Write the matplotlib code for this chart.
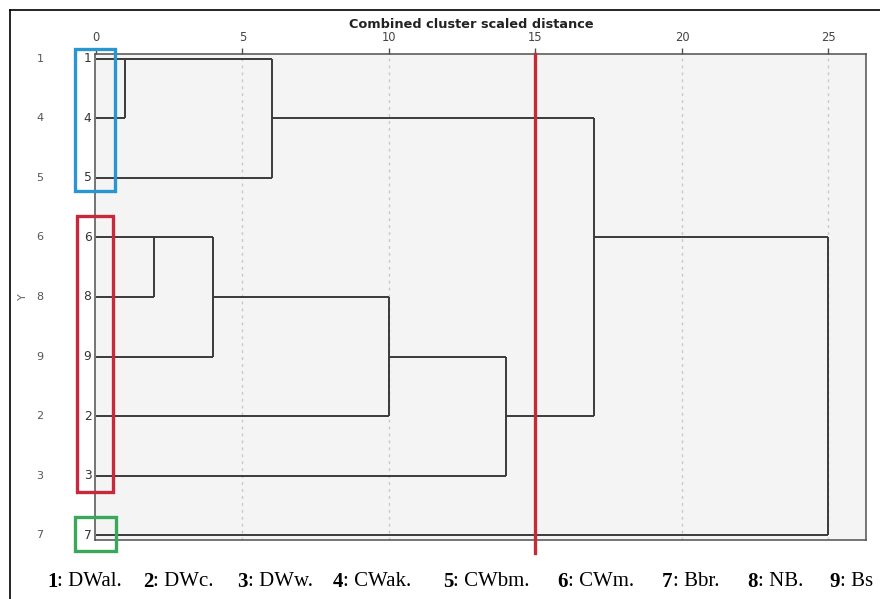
import math
import matplotlib
matplotlib.use("Agg")
import matplotlib.pyplot as plt
from matplotlib.lines import Line2D
from matplotlib.patches import Rectangle

# ---- data -------------------------------------------------------------
leaf_order = ["1", "4", "5", "6", "8", "9", "2", "3", "7"]   # top -> bottom
# agglomeration schedule: (child_a, child_b, rescaled distance)
merges = [
    ("1", "4", 1.0),      # m0
    ("6", "8", 2.0),      # m1
    ("m1", "9", 4.0),     # m2
    ("m0", "5", 6.0),     # m3
    ("m2", "2", 10.0),    # m4
    ("m4", "3", 14.0),    # m5
    ("m3", "m5", 17.0),   # m6
    ("m6", "7", 25.0),    # m7
]
cut_distance = 15.0
x_ticks = [0, 5, 10, 15, 20, 25]
group_members = [["1", "4", "5"], ["6", "8", "9", "2", "3"], ["7"]]
legend_nums = ["1", "2", "3", "4", "5", "6", "7", "8", "9"]
legend_names = ["DWal.", "DWc.", "DWw.", "CWak.", "CWbm.", "CWm.", "Bbr.", "NB.", "Bs"]

# box styling per group: colour, (left, right) in distance units, (top, bottom) padding in rows
group_style = [
    ("#2a96d0", (-0.72, 0.66), (0.17, 0.22)),
    ("#c8283c", (-0.65, 0.58), (0.36, 0.28)),
    ("#3aa85a", (-0.72, 0.68), (0.30, 0.27)),
]

# ---- figure / axes ----------------------------------------------------
W, H = 880, 599
fig = plt.figure(figsize=(W / 100, H / 100), dpi=100)
fig.patch.set_facecolor("white")

ax_l, ax_r, ax_t, ax_b = 95, 866, 54, 540
ax = fig.add_axes([ax_l / W, 1 - ax_b / H, (ax_r - ax_l) / W, (ax_b - ax_t) / H])
ax.set_facecolor("#f4f4f4")
n = len(leaf_order)
ax.set_xlim(-0.03, 26.28)
ax.set_ylim(n - 1 + 0.084, -0.084)

for s in ax.spines.values():
    s.set_color("#505050")
    s.set_linewidth(1.1)

# top distance axis
ax.xaxis.tick_top()
ax.set_xticks(x_ticks)
ax.set_xticklabels([str(t) for t in x_ticks])
ax.tick_params(axis="x", direction="out", length=4, width=1, color="#505050",
               labelsize=8.3, labelcolor="#444444", pad=3)
ax.set_yticks([])

# dotted reference lines
for t in x_ticks[1:]:
    ax.axvline(t, color="#c8c8c8", lw=1, ls=(0, (2, 3)), zorder=1)

# ---- dendrogram ---------------------------------------------------------
line_kw = dict(color="#3a3a3a", lw=1.4, solid_capstyle="butt", zorder=3)
pos = {lab: (i, 0.0) for i, lab in enumerate(leaf_order)}   # (row, x)
for k, (a, b, d) in enumerate(merges):
    ya, xa = pos[a]
    yb, xb = pos[b]
    ax.plot([xa, d], [ya, ya], **line_kw)
    ax.plot([xb, d], [yb, yb], **line_kw)
    ax.plot([d, d], [ya, yb], **line_kw)
    pos["m%d" % k] = (math.floor((ya + yb) / 2), d)

# inner case labels
for i, lab in enumerate(leaf_order):
    ax.text(-0.15, i, lab, ha="right", va="center", fontsize=8.8,
            color="#333333", clip_on=False)

# outer case labels and axis name
for i, lab in enumerate(leaf_order):
    ax.annotate(lab, xy=(0, i), xycoords=("figure pixels", "data"),
                xytext=(40, 0), textcoords=("figure pixels", "offset points"),
                ha="center", va="center", fontsize=8, color="#555555")
ax.annotate("Y", xy=(0, 4), xycoords=("figure pixels", "data"),
            xytext=(23, 0), textcoords=("figure pixels", "offset points"),
            ha="center", va="center", fontsize=8, color="#666666", rotation=90)

fig.text(471 / W, 1 - 25 / H, "Combined cluster scaled distance", ha="center",
         va="center", fontsize=9.3, fontweight="bold", color="#222222")

# cut line
ax.plot([cut_distance, cut_distance], [-0.084, 8.30], color="#c42b36", lw=2.4,
        clip_on=False, zorder=5)

# group boxes
for rows, (col, (bx0, bx1), (pt, pb)) in zip(group_members, group_style):
    idx = [leaf_order.index(r) for r in rows]
    y0, y1 = min(idx) - pt, max(idx) + pb
    ax.add_patch(Rectangle((bx0, y0), bx1 - bx0, y1 - y0, fill=False, ec=col,
                           lw=2.4, clip_on=False, zorder=6))

# outer frame
fig.add_artist(Line2D([10 / W, 10 / W], [0, 1 - 10 / H], color="black", lw=1.2))
fig.add_artist(Line2D([10 / W, 1], [1 - 10 / H, 1 - 10 / H], color="black", lw=1.2))

# ---- key ------------------------------------------------------------------
key_x = [47, 143, 237, 333, 443, 557, 662, 747, 829]
key_y = 1 - 582 / H
for x, num, name in zip(key_x, legend_nums, legend_names):
    t = fig.text(x / W, key_y, num, fontsize=15, fontweight="bold",
                 family="Liberation Serif", va="center", ha="left")
    ax.annotate(": " + name, xy=(1, 0.5), xycoords=t, va="center", ha="left",
                fontsize=15, family="Liberation Serif", annotation_clip=False)

fig.savefig("out.png", dpi=100)
